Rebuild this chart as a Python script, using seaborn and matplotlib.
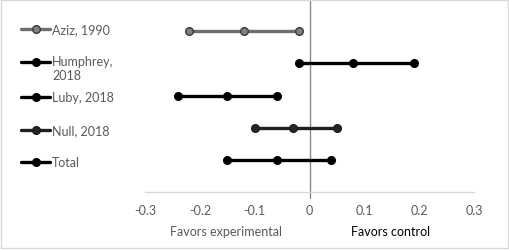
import matplotlib
matplotlib.use("Agg")
import matplotlib.pyplot as plt
import seaborn as sns
import pandas as pd
from matplotlib.lines import Line2D
from matplotlib.patches import Rectangle

# data: lower bound, estimate, upper bound
studies = ["Aziz, 1990", "Humphrey,\n2018", "Luby, 2018", "Null, 2018", "Total"]
aziz = [-0.22, -0.12, -0.02]
humphrey = [-0.02, 0.08, 0.19]
luby = [-0.24, -0.15, -0.06]
null = [-0.10, -0.03, 0.05]
total = [-0.15, -0.06, 0.04]
xticks = [-0.3, -0.2, -0.1, 0, 0.1, 0.2, 0.3]
xtick_labels = ["-0.3", "-0.2", "-0.1", "0", "0.1", "0.2", "0.3"]

series = [aziz, humphrey, luby, null, total]
rows = []
for i, (name, vals) in enumerate(zip(studies, series), start=1):
    for v in vals:
        rows.append({"study": name, "row": i, "value": v})
df = pd.DataFrame(rows)

line_cols = ["#6e6e6e", "#000000", "#000000", "#1f1f1f", "#000000"]
face_cols = ["#808080", "#000000", "#000000", "#262626", "#000000"]
edge_cols = ["#3a3a3a", "#000000", "#000000", "#1a1a1a", "#000000"]

sns.set_style("white")
plt.rcParams["font.family"] = ["Lato", "DejaVu Sans"]

fig = plt.figure(figsize=(5.09, 2.51), dpi=100)
ax = fig.add_axes([145 / 509, 1 - 193 / 251, (474 - 145) / 509, 193 / 251])

for i, name in enumerate(studies):
    sub = df[df["study"] == name]
    sns.lineplot(data=sub, x="value", y="row", ax=ax, color=line_cols[i],
                 linewidth=2.4, marker="o", markersize=5.5,
                 markerfacecolor=face_cols[i], markeredgecolor=edge_cols[i],
                 markeredgewidth=1, estimator=None, sort=True, legend=False)

ax.axvline(0, color="#8a8a8a", linewidth=1, zorder=0, clip_on=False,
           ymin=-0.03, ymax=1)
ax.set_xlim(-0.3, 0.3)
ax.set_ylim(6, 0)
ax.set_xticks(xticks)
ax.set_xticklabels(xtick_labels, color="#595959", fontsize=9)
ax.tick_params(axis="x", length=0, pad=9)
ax.set_yticks([])
ax.set_xlabel("")
ax.set_ylabel("")
for s in ["top", "left", "right"]:
    ax.spines[s].set_visible(False)
ax.spines["bottom"].set_color("#d9d9d9")
ax.spines["bottom"].set_linewidth(1)

# axis titles under the ticks
fig.text(226 / 509, 1 - 232 / 251, "Favors experimental", color="#595959",
         fontsize=9, ha="center", va="center")
fig.text(391 / 509, 1 - 232 / 251, "Favors control", color="#000000",
         fontsize=9, ha="center", va="center")

# legend on the left, drawn by hand to keep Excel's spacing
leg_y = [30, 63, 98, 131, 163]
for i, name in enumerate(studies):
    yf = 1 - leg_y[i] / 251
    fig.add_artist(Line2D([21 / 509, 50 / 509], [yf, yf], color=line_cols[i],
                          linewidth=2.4, transform=fig.transFigure))
    fig.add_artist(Line2D([35.5 / 509], [yf], color=line_cols[i], marker="o",
                          markersize=5.5, markerfacecolor=face_cols[i],
                          markeredgecolor=edge_cols[i], markeredgewidth=1,
                          transform=fig.transFigure))
    if "\n" in name:
        fig.text(52 / 509, yf + 7 / 251, name, color="#595959", fontsize=9,
                 ha="left", va="top", linespacing=1.25)
    else:
        fig.text(52 / 509, yf, name, color="#595959", fontsize=9,
                 ha="left", va="center")

fig.add_artist(Rectangle((0.5 / 509, 2 / 251), 507 / 509, 248 / 251,
                         transform=fig.transFigure, fill=False,
                         edgecolor="#d9d9d9", linewidth=1))

fig.savefig("out.png", dpi=100)
